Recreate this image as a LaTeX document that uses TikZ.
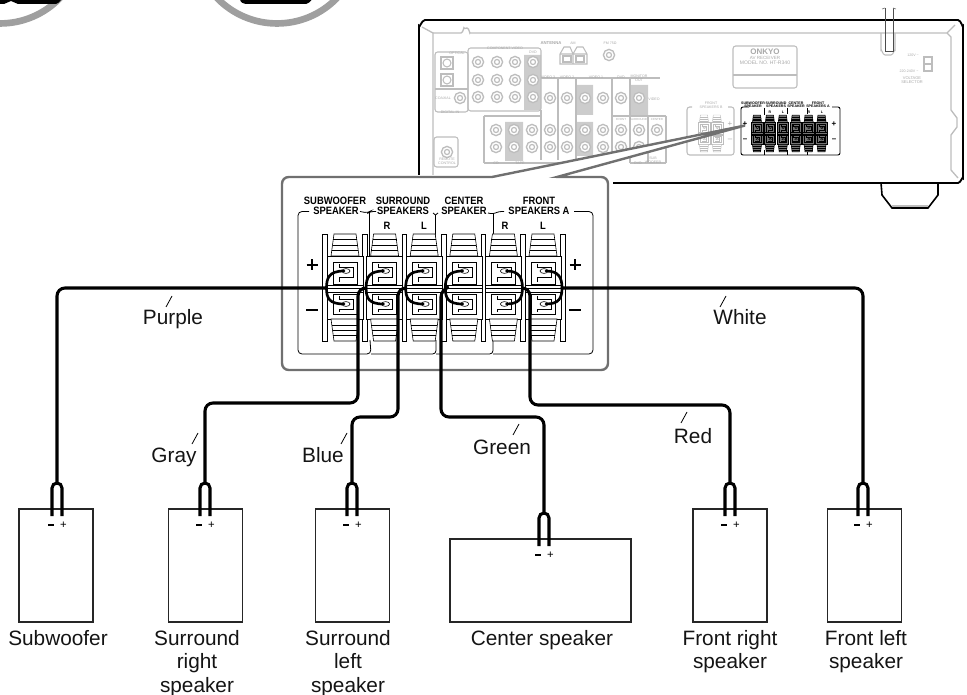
\documentclass[tikz,border=0pt]{standalone}
\usepackage{fontspec}
\setmainfont{Liberation Sans}
\newcommand{\pxf}[1]{\fontsize{#1}{#1}\selectfont}
\definecolor{rcv}{HTML}{BDBDBD}
\definecolor{rcvt}{HTML}{A8A8A8}
\definecolor{panelg}{HTML}{707070}
\definecolor{jackfill}{HTML}{CCCCCC}
\tikzset{
 x=0.75pt,y=-0.75pt,
 wire/.style={line width=2.3pt,black,line cap=round},
 prong/.style={line width=2.3pt,black},
 tick/.style={line width=0.6pt,black},
 lab/.style={font=\pxf{15.6pt},text=black!92,align=center,inner sep=0pt},
 spk/.style={draw=black!85,line width=0.9pt,fill=white,inner sep=0pt},
 rline/.style={draw=rcv,line width=0.8pt},
 rtxt/.style={font=\pxf{2.7pt},text=rcvt,inner sep=0pt,align=center},
 jack/.style={draw=rcv,line width=1pt,fill=white},
 head/.style={font=\bfseries\pxf{8pt},inner sep=0pt,xscale=0.88,transform shape},
 tline/.style={draw=black,line width=0.45pt},
 tfill/.style={draw=black,line width=0.45pt,fill=white},
 bolt/.style={draw=black,line width=0.45pt,fill=white},
 mtxt/.style={font=\bfseries\pxf{2.7pt},inner sep=0pt},
}
% one terminal pair; #1 = centre x in panel pixels
\newcommand{\oneterm}[1]{%
 \begin{scope}[shift={(#1,0)}]
  \draw[tfill] (-11,234) -- (11,234) -- (14,256) -- (-14,256) -- cycle;
  \draw[tline] (-12,239.5) -- (12,239.5) (-12.5,245) -- (12.5,245) (-13.2,250.5) -- (13.2,250.5);
  \draw[tfill] (-18,256) rectangle (18,319);
  \draw[tline] (-18,285) -- (18,285) (-18,288.5) -- (18,288.5) (-18,292) -- (18,292);
  \draw[tfill] (-12,262) rectangle (12,284);
  \draw[tline] (-6,264) -- (-6,267) -- (8,267) -- (8,277) -- (-6,277) -- (-6,282);
  \draw[tfill] (-12,294) rectangle (12,314);
  \draw[tline] (-6,296) -- (-6,299) -- (8,299) -- (8,309) -- (-6,309) -- (-6,312);
  \draw[tfill] (-14,319) -- (14,319) -- (11,341) -- (-11,341) -- cycle;
  \draw[tline] (-13.2,325) -- (13.2,325) (-12.5,330) -- (12.5,330) (-12,335.5) -- (12,335.5);
  \draw[bolt] (1,271) ellipse [x radius=3pt,y radius=1.8pt];
  \draw[bolt] (1,304) ellipse [x radius=3pt,y radius=1.8pt];
 \end{scope}}
\newcommand{\bars}[1]{\draw[tfill] (#1-2.3,234) rectangle (#1+2.3,341);}
\newcommand{\jk}[2]{\draw[jack] (#1,#2) circle [radius=4.2pt]; \draw[rcv,line width=0.9pt] (#1,#2) circle [radius=1.9pt];}
\begin{document}
\begin{tikzpicture}
\useasboundingbox (0,0) rectangle (967,695);
\begin{scope}
\clip (0,0) rectangle (967,695);
% top circles
\draw[line width=5pt,gray!75] (0,-60) circle [radius=62.6pt];
\draw[line width=5pt,gray!75] (277,-60) circle [radius=62.6pt];
\fill[black] (0,-5) -- (63,-5) -- (63,-1) to[out=90,in=0] (56,4) -- (18,4) to[out=180,in=0] (11,1) to[out=180,in=0] (4,4) -- (0,4) -- cycle;
\fill[black] (240,-5) -- (314,-5) -- (314,-1) to[out=90,in=0] (306,4) -- (247,4) to[out=180,in=-90] (240,-1) -- cycle;
\end{scope}

% ---------- receiver
\draw[black,line width=1.4pt] (419,175) -- (419,26) to[out=-90,in=180] (425,20) -- (958,20) to[out=0,in=-90] (963,26) -- (963,178) to[out=90,in=0] (958,183) -- (613,183);
\draw[rline,line width=1pt] (422,27) -- (433,33) -- (433,175);
\draw[rline,line width=1pt] (433,33) -- (461,33) to[out=0,in=90] (464,28) to[out=-90,in=180] (467,28) to[out=0,in=-90] (470,33) -- (947,33) -- (955,25);
\draw[rline,line width=1pt] (947,33) -- (951,37) -- (951,110) -- (957,118) -- (957,127) -- (951,135) -- (951,170) -- (958,178);
\draw[black,line width=1.2pt] (881,183) -- (882,195) -- (892,208) -- (928,208) -- (938,195) -- (938,183);
\draw[rcv,line width=0.8pt] (892,206) -- (928,206);
% strap
\draw[rline] (881,33) -- (881,50) to[out=90,in=180] (885,55) -- (891,55) to[out=0,in=90] (895,50) -- (895,33);
\draw[black!70,line width=0.7pt] (885,8) -- (885,51) -- (893,51) -- (893,8);
\draw[black!50,line width=0.5pt] (882,9) -- (885,8) (893,8) -- (896,9);
% plate
\draw[rline,rounded corners=2pt] (733,46) rectangle (797,88);
\draw[rline] (733,75) -- (797,75);
\node[font=\bfseries\pxf{6pt},text=rcvt,inner sep=0pt] (onkyo) at (765,52) {ONKYO};
\node[font=\pxf{3.4pt},text=rcvt,inner sep=0pt] (avr) at (765,58) {AV RECEIVER};
\node[font=\pxf{3.8pt},text=rcvt,inner sep=0pt] (model) at (765,63) {MODEL NO. HT-R340};
% voltage selector
\draw[rline] (924,57) rectangle (932,71) (924,64) -- (932,64);
\node[rtxt] (v1) at (913,55) {120V \textasciitilde};
\node[rtxt] (v2) at (909,71) {220-240V \textasciitilde};
\node[rtxt,font=\pxf{3pt}] (v3) at (912,80) {VOLTAGE\\SELECTOR};
% grey highlighted jack fields
\fill[jackfill] (524,55) rectangle (541,110) (577,85) rectangle (593,115) (630,85) rectangle (648,115)
  (505,122) rectangle (523,161) (577,122) rectangle (593,156);
% boxes & dividers
\draw[rline,rounded corners=2pt] (435,52) rectangle (468,112);
\draw[rline] (435,89) -- (468,89);
\draw[rline,rounded corners=2pt] (468,48) rectangle (541,111);
\draw[rline,rounded corners=2pt] (434,137) rectangle (458,167);
\draw[rline] (484,116) -- (484,163) (541,78) -- (660,78);
\draw[rline] (484,116) -- (541,116) (484,163) -- (600,163) (541,110) -- (541,160)
  (558,78) -- (558,160) (576,78) -- (576,160) (612,78) -- (612,163) (630,78) -- (630,163) (648,116) -- (648,163) (666,116) -- (666,163) (612,116) -- (666,116) (630,163) -- (666,163);
% front speakers B box
\draw[rline,rounded corners=2pt] (692,107) -- (687,107) -- (687,155) -- (734,155) -- (734,107) -- (728,107);
\node[rtxt] (fb) at (711,105) {FRONT\\SPEAKERS B};
\node[rtxt,font=\pxf{6pt}] (fbp) at (730,124) {+};
\node[rtxt,font=\pxf{6pt}] (fbm) at (730,140) {–};
% optical
\draw[rline,line width=1pt] (441,57) rectangle (453,69) (441,74) rectangle (453,86);
\draw[rline] (447,63) circle [radius=3pt] (447,80) circle [radius=3pt];
\foreach \xx/\yy in {478/62,497/62,515/62,533/62,478/80,497/80,515/80,533/80,478/97,497/97,515/97,533/97,
  460/98,550/98,567/98,585/98,603/98,621/98,639/98,
  496/130,514/130,532/130,550/130,567/130,585/130,603/130,621/130,639/130,657/130,
  496/147,514/147,532/147,550/147,567/147,585/147,603/147,621/147,639/147,
  609/55,447/152}{\jk{\xx}{\yy}}
% antenna
\draw[rline] (560,54) -- (564,47) -- (570,47) -- (573,54) -- (577,47) -- (583,47) -- (587,54) -- (587,64) -- (560,64) -- cycle (573,54) -- (573,64) (560,54) -- (587,54);
\draw[rline] (563,56) rectangle (571,62) (576,56) rectangle (584,62);
\node[rtxt,font=\bfseries\pxf{3.2pt}] (t1) at (551,43) {ANTENNA};
\node[rtxt] (t2) at (573,43) {AM};
\node[rtxt] (t3) at (610,43) {FM 75Ω};
\node[rtxt] (t4) at (505,48) {COMPONENT VIDEO};
\node[rtxt] (t5) at (457,53) {OPTICAL};
\node[rtxt] (t6) at (443,98) {COAXIAL};
\node[rtxt] (t7) at (450,112) {DIGITAL IN};
\node[rtxt] (t8) at (533,52) {DVD};
\node[rtxt] (t9) at (548,77) {VIDEO 3};
\node[rtxt] (t10) at (567,77) {VIDEO 2};
\node[rtxt] (t11) at (596,77) {VIDEO 1};
\node[rtxt] (t12) at (621,77) {DVD};
\node[rtxt] (t13) at (639,78) {MONITOR\\OUT};
\node[rtxt] (t14) at (654,99) {VIDEO};
\node[rtxt,font=\pxf{2.2pt}] (t15) at (621,119) {FRONT};
\node[rtxt,font=\pxf{2.2pt}] (t16) at (638.5,119) {SURROUND};
\node[rtxt,font=\pxf{2.2pt}] (t17) at (657,119) {CENTER};
\node[rtxt] (t18) at (496,163) {CD};
\node[rtxt] (t19) at (520,163) {TAPE};
\node[rtxt] (t20) at (638,163) {DVD};
\node[rtxt] (t21) at (653,160) {SUB\\WOOFER};
\node[rtxt] (t22) at (447,161) {REMOTE\\CONTROL};
% grey front B terminals
\begin{scope}[shift={(591.5,34.3)},xscale=0.326,yscale=0.345,
   tline/.style={draw=rcv,line width=0.3pt},tfill/.style={draw=rcv,line width=0.3pt,fill=white},bolt/.style={draw=rcv,line width=0.3pt,fill=white}]
 \foreach \cc in {345,384.6}{\oneterm{\cc}}
\end{scope}
% black miniature terminals
\draw[black,line width=0.7pt,rounded corners=1.5pt] (749,107) -- (741,107) -- (741,155) -- (840,155) -- (840,107) -- (832,107);
\draw[black,line width=0.6pt] (764,150) -- (764,155) (787,150) -- (787,155) (807,150) -- (807,155) (764,108) -- (764,115) (787,108) -- (787,114) (807,108) -- (807,114);
\begin{scope}[shift={(644.5,34.3)},xscale=0.326,yscale=0.345,
   tline/.style={draw=black,line width=0.4pt},tfill/.style={draw=black,line width=0.4pt,fill=black!55},bolt/.style={draw=black,line width=0.4pt,fill=white}]
 \foreach \cc in {345,384.6,424.2,463.8,503.4,543}{\oneterm{\cc}}
\end{scope}
\node[mtxt] (m1) at (753,103) {SUBWOOFER};
\node[mtxt] (m1b) at (753,106.5) {SPEAKER};
\node[mtxt] (m2) at (776,103) {SURROUND};
\node[mtxt] (m2b) at (776,106.5) {SPEAKERS};
\node[mtxt] (m3) at (796,103) {CENTER};
\node[mtxt] (m3b) at (796,106.5) {SPEAKER};
\node[mtxt] (m4) at (818,103) {FRONT};
\node[mtxt] (m4b) at (818,106.5) {SPEAKERS A};
\node[mtxt] (m5) at (770,112) {R};
\node[mtxt] (m6) at (783,112) {L};
\node[mtxt] (m7) at (809,112) {R};
\node[mtxt] (m8) at (822,112) {L};
\node[font=\bfseries\pxf{6pt},inner sep=0pt] (mp) at (745,124) {+};
\node[font=\bfseries\pxf{6pt},inner sep=0pt] (mm) at (745,140) {–};
\node[font=\bfseries\pxf{6pt},inner sep=0pt] (mp2) at (834,124) {+};
\node[font=\bfseries\pxf{6pt},inner sep=0pt] (mm2) at (834,140) {–};

% ---------- enlarged panel with callout
\coordinate (tip) at (745,125.5);
\draw[panelg,line width=1.8pt,fill=white,line join=miter]
  (tip) -- (492,177) [rounded corners=5pt] -- (282,177) -- (282,370) -- (608,370) -- (608,177) [sharp corners] -- (557,177) -- cycle;
\fill[white] (493,177.6) rectangle (556,180);
% group frame
\draw[black,line width=0.6pt,rounded corners=3pt]
  (309,211.5) -- (298,211.5) -- (298,354) -- (371,354) -- (370,340);
\draw[black,line width=0.6pt,rounded corners=2.5pt] (360,211.5) -- (368,213) -- (370,211.5) -- (376,211.5);
\draw[black,line width=0.6pt] (369.5,212.5) -- (369.5,256);
\draw[black,line width=0.6pt,rounded corners=2.5pt] (371,354) -- (436,354) -- (436,340);
\draw[black,line width=0.6pt,rounded corners=2.5pt] (436,354) -- (493,354) -- (493,340);
\draw[black,line width=0.6pt,rounded corners=3pt] (493,354) -- (593,354) -- (593,211.5) -- (574,211.5);
\draw[black,line width=0.6pt] (433,213) -- (435.5,215) -- (438,213) (435.5,215) -- (435.5,241);
\draw[black,line width=0.6pt,rounded corners=2pt] (488,213) -- (493,214) -- (499,211.5) -- (504,211.5);
\draw[black,line width=0.6pt] (493,214) -- (493,239);
% bars and terminals
\foreach \bb in {325,364.6,404.2,443.8,483.4,523,562.6}{\bars{\bb}}
\foreach \cc in {345,384.6,424.2,463.8,503.4,543}{\oneterm{\cc}}
% headings
\node[head] (h1a) at (335,201) {SUBWOOFER};
\node[head] (h1b) at (336,211) {SPEAKER};
\node[head] (h2a) at (403,201) {SURROUND};
\node[head] (h2b) at (403,211) {SPEAKERS};
\node[head] (h3a) at (464,201) {CENTER};
\node[head] (h3b) at (464,211) {SPEAKER};
\node[head] (h4a) at (539,201) {FRONT};
\node[head] (h4b) at (539,211) {SPEAKERS A};
\node[head] (r1) at (387,226) {R};
\node[head] (l1) at (424,226) {L};
\node[head] (r2) at (505,226) {R};
\node[head] (l2) at (543,226) {L};
\draw[black,line width=1.1pt] (306.5,265) -- (317.5,265) (312,259.5) -- (312,270.5) (306,310) -- (318,310);
\draw[black,line width=1.1pt] (569.5,265) -- (580.5,265) (575,259.5) -- (575,270.5) (569,310) -- (581,310);

% ---------- speakers
\node[spk,minimum width=55.5pt,minimum height=84.75pt] (sub) at (56,565.5) {};
\node[spk,minimum width=56pt,minimum height=84.75pt] (sr) at (205.5,565.5) {};
\node[spk,minimum width=56pt,minimum height=84.75pt] (sl) at (352.5,565.5) {};
\node[spk,minimum width=135.7pt,minimum height=62.25pt] (cen) at (540.5,580.5) {};
\node[spk,minimum width=55.5pt,minimum height=84.75pt] (fr) at (730,565.5) {};
\node[spk,minimum width=56pt,minimum height=84.75pt] (fl) at (864.5,565.5) {};
\node[lab,anchor=base] (tsub) at (58,645) {Subwoofer};
\node[lab,anchor=north] (tsr) at (197,630) {Surround\\[2pt]right\\[2pt]speaker};
\node[lab,anchor=north] (tsl) at (348,630) {Surround\\[2pt]left\\[2pt]speaker};
\node[lab,anchor=base] (tcen) at (542,645) {Center speaker};
\node[lab,anchor=north] (tfr) at (730,630) {Front right\\[2pt]speaker};
\node[lab,anchor=north] (tfl) at (866,630) {Front left\\[2pt]speaker};
% speaker wire ends and prongs
\foreach \nm/\cx/\ty in {a/57/483,b/205/483,c/352/483,d/544/513,e/730/483,f/863/483}{
  \coordinate (\nm top) at (\cx,\ty);
  \draw[prong] (\cx-5,\ty+33) -- (\cx-5,\ty+5) arc[start angle=180,end angle=0,radius=3.75pt] -- (\cx+5,\ty+33);
  \fill[black] (\cx-9,\ty+41) rectangle (\cx-3,\ty+43.2);
  \node[inner sep=0pt,font=\pxf{8.5pt}] at (\cx+6.5,\ty+42) {+};
}
% bridge loops (bolt to bolt)
\foreach \cc/\nm in {346/L1,385.6/L2,425.2/L3,464.8/L4}{
  \draw[wire,line width=2pt] (\cc-2,271) .. controls (\cc-17,271) and (\cc-19.5,278) .. (\cc-19.5,288) coordinate (\nm) .. controls (\cc-19.5,298) and (\cc-17,304) .. (\cc-2,304);
}
\foreach \cc/\nm in {504.4/L5,544/L6}{
  \draw[wire,line width=2pt] (\cc+2,271) .. controls (\cc+15,271) and (\cc+18,278) .. (\cc+18,288) coordinate (\nm) .. controls (\cc+18,298) and (\cc+15,304) .. (\cc+2,304);
}
% cables
\draw[wire,rounded corners=6pt] (L1) -- (57,288) -- (atop);
\draw[wire,rounded corners=6pt] (L2) -- (358,288) -- (358,403) -- (205,403) -- (btop);
\draw[wire,rounded corners=6pt] (L3) -- (398,288) -- (398,417) -- (352,417) -- (ctop);
\draw[wire,rounded corners=6pt] (L4) -- (441,289) -- (441,417) -- (544,417) -- (dtop);
\draw[wire,rounded corners=6pt] (L5) -- (530,288) -- (530,405) -- (730,405) -- (etop);
\draw[wire,rounded corners=6pt] (L6) -- (863,288) -- (ftop);
% cable labels
\node[lab,anchor=base] (cp) at (173,325) {Purple};
\node[lab,anchor=base] (cg) at (174,462) {Gray};
\node[lab,anchor=base] (cb) at (323,462) {Blue};
\node[lab,anchor=base] (cgr) at (502,454) {Green};
\node[lab,anchor=base] (cr) at (693,443) {Red};
\node[lab,anchor=base] (cw) at (740,325) {White};
\draw[tick] (172,296) -- (166,307);
\draw[tick] (198,433) -- (192,444);
\draw[tick] (347,433) -- (341,444);
\draw[tick] (519,424) -- (513,435);
\draw[tick] (687,412) -- (681,423);
\draw[tick] (726,296) -- (720,307);
\end{tikzpicture}
\end{document}
